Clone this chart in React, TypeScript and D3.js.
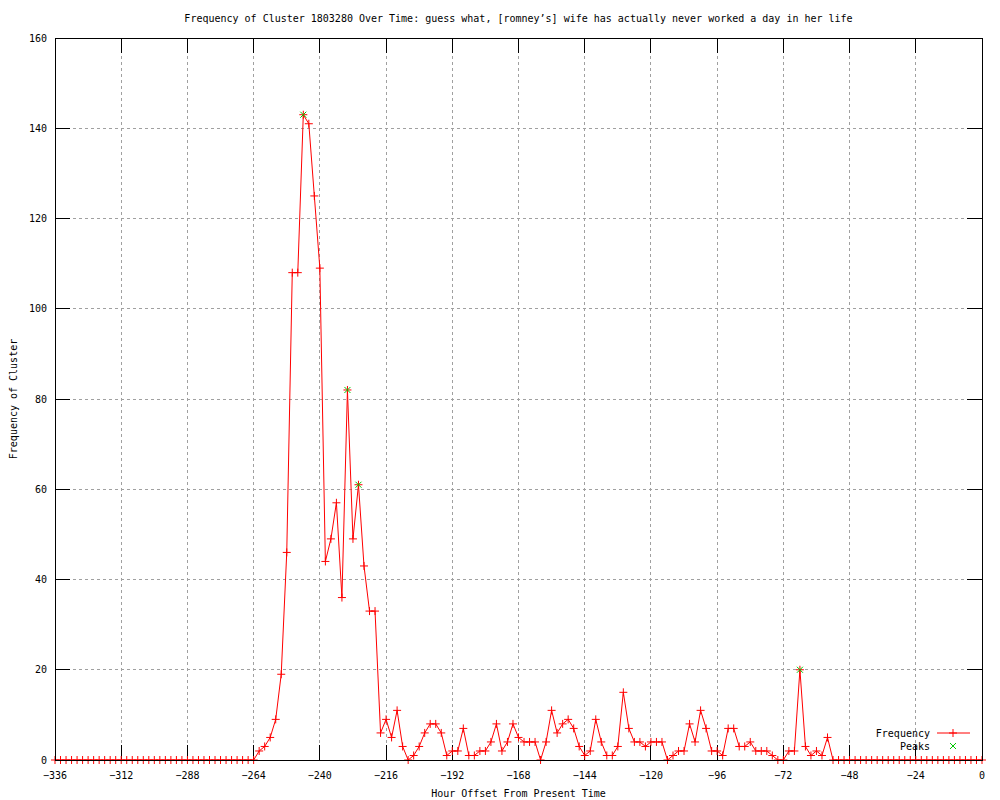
import React from 'react';
import * as d3 from 'd3';

// hour offsets, one sample every 2 hours
const hours = d3.range(-336, 1, 2);

// frequency per 2-hour bucket, -336 .. 0
const frequency = [
  0, 0, 0, 0, 0, 0, 0, 0, 0, 0, 0, 0,
  0, 0, 0, 0, 0, 0, 0, 0, 0, 0, 0, 0,
  0, 0, 0, 0, 0, 0, 0, 0, 0, 0, 0, 0,
  0, 2, 3, 5, 9, 19, 46, 108, 108, 143, 141, 125,
  109, 44, 49, 57, 36, 82, 49, 61, 43, 33, 33, 6,
  9, 5, 11, 3, 0, 1, 3, 6, 8, 8, 6, 1,
  2, 2, 7, 1, 1, 2, 2, 4, 8, 2, 4, 8,
  5, 4, 4, 4, 0, 4, 11, 6, 8, 9, 7, 3,
  1, 2, 9, 4, 1, 1, 3, 15, 7, 4, 4, 3,
  4, 4, 4, 0, 1, 2, 2, 8, 4, 11, 7, 2,
  2, 1, 7, 7, 3, 3, 4, 2, 2, 2, 1, 0,
  0, 2, 2, 20, 3, 1, 2, 1, 5, 0, 0, 0,
  0, 0, 0, 0, 0, 0, 0, 0, 0, 0, 0, 0,
  0, 0, 0, 0, 0, 0, 0, 0, 0, 0, 0, 0,
  0,
];

const peakHours = [-246, -230, -226, -66];
const peakValues = [143, 82, 61, 20];

const xTicks = d3.range(-336, 1, 24);
const yTicks = d3.range(0, 161, 20);

const title = 'Frequency of Cluster 1803280 Over Time: guess what, [romney\u2019s] wife has actually never worked a day in her life';

const font = '"DejaVu Sans Mono", monospace';
const RED = '#ff0000';
const GREEN = '#00c800';

export default function App() {
  const left = 55, right = 982, top = 38, bottom = 760;
  const tickLen = 15;

  const x = d3.scaleLinear().domain([-336, 0]).range([left, right]);
  const y = d3.scaleLinear().domain([0, 160]).range([bottom, top]);

  const pts = hours.map((h, i) => [h, frequency[i]] as [number, number]);
  const line = d3.line<[number, number]>().x(d => x(d[0])).y(d => y(d[1]));

  const plus = (cx: number, cy: number, k: string, color = RED) => (
    <path key={k} d={`M${cx - 4},${cy}H${cx + 4}M${cx},${cy - 4}V${cy + 4}`} stroke={color} strokeWidth={1} fill="none" />
  );
  const cross = (cx: number, cy: number, k: string) => (
    <path key={k} d={`M${cx - 3},${cy - 3}L${cx + 3},${cy + 3}M${cx - 3},${cy + 3}L${cx + 3},${cy - 3}`} stroke={GREEN} strokeWidth={1} fill="none" />
  );

  return (
    <svg width={1000} height={800} style={{ position: 'absolute', left: 0, top: 0, background: '#fff' }}
      fontFamily={font} fontSize={10}>
      <rect width={1000} height={800} fill="#fff" />

      {/* grid */}
      <g stroke="#a0a0a0" strokeDasharray="3,3" shapeRendering="crispEdges">
        {xTicks.slice(1, -1).map(t => (
          <line key={'gx' + t} x1={x(t)} x2={x(t)} y1={top} y2={bottom} />
        ))}
        {yTicks.slice(1, -1).map(t => (
          <line key={'gy' + t} x1={left} x2={right} y1={y(t)} y2={y(t)} />
        ))}
      </g>

      {/* ticks, mirrored on all sides */}
      <g stroke="#000" shapeRendering="crispEdges">
        {xTicks.map(t => (
          <g key={'tx' + t}>
            <line x1={x(t)} x2={x(t)} y1={bottom} y2={bottom - tickLen} />
            <line x1={x(t)} x2={x(t)} y1={top} y2={top + tickLen} />
          </g>
        ))}
        {yTicks.map(t => (
          <g key={'ty' + t}>
            <line x1={left} x2={left + tickLen} y1={y(t)} y2={y(t)} />
            <line x1={right} x2={right - tickLen} y1={y(t)} y2={y(t)} />
          </g>
        ))}
      </g>

      {/* data line */}
      <path d={line(pts) || ''} fill="none" stroke={RED} strokeWidth={1} />
      {pts.map((d, i) => plus(x(d[0]), y(d[1]), 'p' + i))}
      {peakHours.map((h, i) => cross(x(h), y(peakValues[i]), 'k' + i))}

      {/* frame */}
      <rect x={left} y={top} width={right - left} height={bottom - top} fill="none" stroke="#000" shapeRendering="crispEdges" />

      {/* tick labels */}
      {yTicks.map(t => (
        <text key={'ly' + t} x={left - 8} y={y(t)} dy="0.35em" textAnchor="end">{t}</text>
      ))}
      {xTicks.map(t => (
        <text key={'lx' + t} x={x(t)} y={775} dy="0.35em" textAnchor="middle">{t === 0 ? '0' : '\u2212' + Math.abs(t)}</text>
      ))}

      {/* titles */}
      <text x={(left + right) / 2} y={18} dy="0.35em" textAnchor="middle">{title}</text>
      <text x={(left + right) / 2} y={793} dy="0.35em" textAnchor="middle">Hour Offset From Present Time</text>
      <text transform={`translate(13,${(top + bottom) / 2}) rotate(-90)`} dy="0.35em" textAnchor="middle">Frequency of Cluster</text>

      {/* legend */}
      <text x={930} y={733} dy="0.35em" textAnchor="end">Frequency</text>
      <line x1={937} x2={970} y1={733} y2={733} stroke={RED} />
      {plus(953, 733, 'lg1')}
      <text x={930} y={746} dy="0.35em" textAnchor="end">Peaks</text>
      {cross(953, 746, 'lg2')}
    </svg>
  );
}
